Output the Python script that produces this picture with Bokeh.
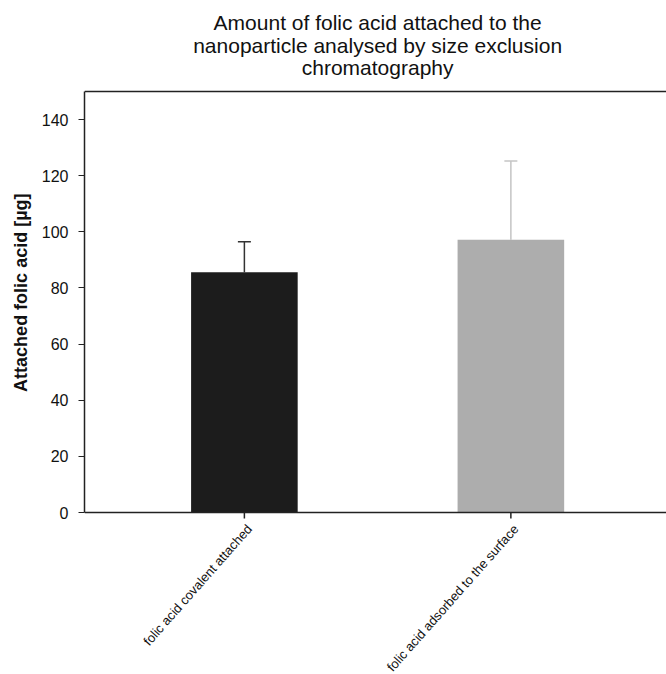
from bokeh.plotting import figure
from bokeh.models import (Range1d, FixedTicker, Whisker, TeeHead, ColumnDataSource,
                          Span, Title)
from bokeh.core.properties import value
from bokeh.embed import file_html
from bokeh.resources import INLINE
import math

categories = ["folic acid covalent attached", "folic acid adsorbed to the surface"]
values = [85.6, 97.2]
errors = [10.9, 28.0]
bar_colors = ["#1c1c1c", "#adadad"]
err_colors = ["#333333", "#c4c4c4"]
y_ticks = [0, 20, 40, 60, 80, 100, 120, 140]
y_label = "Attached folic acid [µg]"
title_lines = ["Amount of folic acid attached to the",
               "nanoparticle analysed by size exclusion",
               "chromatography"]

FONT = "Liberation Sans"
Y_MAX = 150

# layout (pixels): plot area top / bottom inside the figure
W, H = 666, 674
LEFT_PX, TOP_PX, BOTTOM_PX = 83, 91, 512
PX = (BOTTOM_PX - TOP_PX) / Y_MAX

xs = list(range(len(categories)))

p = figure(width=W, height=H, output_backend="svg", toolbar_location=None,
           x_range=Range1d(-0.6, 1.584),
           y_range=Range1d(-(H - BOTTOM_PX) / PX, Y_MAX + TOP_PX / PX),
           min_border_left=LEFT_PX, min_border_right=0, min_border_top=0,
           min_border_bottom=0)
p.title = None
p.outline_line_color = None
p.xgrid.grid_line_color = None
p.ygrid.grid_line_color = None
p.background_fill_color = "white"
p.border_fill_color = "white"
p.xaxis.visible = False

src = ColumnDataSource(dict(x=xs, top=values, color=bar_colors))
p.vbar(x="x", top="top", width=0.4, bottom=0, fill_color="color",
       line_color=None, source=src)

for i in xs:
    es = ColumnDataSource(dict(base=[xs[i]], lower=[values[i]],
                               upper=[values[i] + errors[i]]))
    w = Whisker(base="base", lower="lower", upper="upper", source=es,
                line_color=err_colors[i], line_width=1.5,
                upper_head=TeeHead(size=13, line_color=err_colors[i], line_width=1.5),
                lower_head=None)
    p.add_layout(w)

# top frame line and x axis line
p.add_layout(Span(location=Y_MAX, dimension="width", line_color="#222222",
                  line_width=1.5))
p.add_layout(Span(location=0, dimension="width", line_color="#222222",
                  line_width=1.5))
# x ticks (6 px, outward)
p.segment(x0=xs, y0=[0] * len(xs), x1=xs, y1=[-6 / PX] * len(xs),
          line_color="#222222", line_width=1.5)

yax = p.yaxis[0]
yax.bounds = (0, Y_MAX)
yax.ticker = FixedTicker(ticks=y_ticks)
yax.major_label_text_font = FONT
yax.major_label_text_font_size = "16px"
yax.major_label_text_color = "#111111"
yax.major_label_standoff = 10
yax.major_tick_in = 0
yax.major_tick_out = 6
yax.minor_tick_line_color = None
yax.axis_line_width = 1.5
yax.axis_line_color = "#222222"
yax.major_tick_line_color = "#222222"

# y axis title, placed beside the axis and aligned to the top of the bars' scale
p.add_layout(Title(text=y_label, align="right", offset=TOP_PX + 102,
                   text_font=FONT, text_font_size="18px", text_font_style="bold",
                   text_color="#111111", standoff=16), "left")

# category labels, rotated, ending at the ticks
p.text(x=xs, y=[0] * len(xs), text=categories, angle=math.radians(48.5),
       text_align="right", text_baseline="middle", x_offset=5, y_offset=14,
       text_font=value(FONT), text_font_size="13px", text_color="#111111")

# title lines centred between the two categories
mid = sum(xs) / len(xs)
p.text(x=[mid] * 3, y=[Y_MAX] * 3, text=title_lines, y_offset=[-69, -46, -24],
       text_align="center", text_baseline="middle",
       text_font=value(FONT), text_font_size="21px", text_color="#111111")

open("out.html", "w").write(file_html(p, INLINE))
